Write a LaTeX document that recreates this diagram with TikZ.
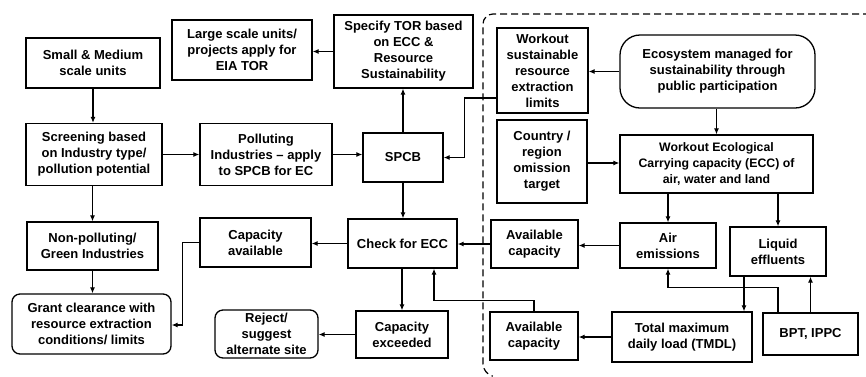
\documentclass[tikz,border=0pt]{standalone}
\usepackage{fontspec}
\setmainfont{Liberation Sans}
\usetikzlibrary{arrows.meta}
\begin{document}
\begin{tikzpicture}[x=1pt,y=-1pt,
  box/.style={draw, line width=1.3pt, align=center, inner sep=1pt,
    font=\fontsize{13}{16}\selectfont\bfseries},
  rbox/.style={box, rounded corners=8pt},
  arr/.style={line width=1.1pt, -{Latex[length=6pt,width=5pt]}},
]
\useasboundingbox (0,0) rectangle (866,376);
\fill[white] (0,0) rectangle (866,376);

% dashed region
\draw[line width=1.2pt, dash pattern=on 7pt off 4pt, rounded corners=10pt]
  (870,14) -- (483,14) -- (483,374) -- (492,376);

% left part
\node[box, minimum width=134, minimum height=50] (sm) at (93,63) {Small \& Medium\\scale units};
\node[box, minimum width=140, minimum height=60] (large) at (242,50) {Large scale units/\\projects apply for\\EIA TOR};
\node[box, minimum width=136, minimum height=62] (screen) at (94,154.5) {Screening based\\on Industry type/\\pollution potential};
\node[box, minimum width=132, minimum height=62] (poll) at (266,154.5) {Polluting\\Industries -- apply\\to SPCB for EC};
\node[box, minimum width=139, minimum height=73] (tor) at (403.5,51.5) {Specify TOR based\\on ECC \&\\Resource\\Sustainability};
\node[box, minimum width=80, minimum height=49] (spcb) at (403,157.5) {SPCB};
\node[box, minimum width=109, minimum height=49] (check) at (402.5,243.5) {Check for ECC};
\node[box, minimum width=111, minimum height=49] (capav) at (255.5,242.5) {Capacity\\available};
\node[box, minimum width=131, minimum height=48] (nonpol) at (92.5,246) {Non-polluting/\\Green Industries};
\node[rbox, minimum width=159, minimum height=60] (grant) at (91.5,324) {Grant clearance with\\resource extraction\\conditions/ limits};
\node[rbox, minimum width=103, minimum height=48] (reject) at (266.5,334) {Reject/\\suggest\\alternate site};
\node[box, minimum width=92, minimum height=47] (capex) at (402,334.5) {Capacity\\exceeded};

% right part
\node[box, minimum width=91, minimum height=85] (worksus) at (542.5,70.5) {Workout\\sustainable\\resource\\extraction\\limits};
\node[box, minimum width=90, minimum height=83] (country) at (542,161.5) {Country /\\region\\omission\\target};
\node[box, rounded corners=20pt, minimum width=195, minimum height=73] (eco) at (717.5,71.5) {Ecosystem managed for\\sustainability through\\public participation};
\node[box, font=\fontsize{12.3}{16}\selectfont\bfseries, minimum width=193, minimum height=58] (wecc) at (716.5,164) {Workout Ecological\\Carrying capacity (ECC) of\\air, water and land};
\node[box, minimum width=87, minimum height=48] (av1) at (534.5,244) {Available\\capacity};
\node[box, minimum width=96, minimum height=45] (air) at (668,245.5) {Air\\emissions};
\node[box, minimum width=96, minimum height=49] (liq) at (778,251.5) {Liquid\\effluents};
\node[box, minimum width=88, minimum height=48] (av2) at (534,336) {Available\\capacity};
\node[box, minimum width=140, minimum height=50] (tmdl) at (682,337) {Total maximum\\daily load (TMDL)};
\node[box, minimum width=95, minimum height=42] (bpt) at (810.5,334) {BPT, IPPC};

% connectors
\draw[arr] (sm.south) -- (sm.south |- screen.north);
\draw[arr] (screen.east) -- (screen.east -| poll.west);
\draw[arr] (screen.south -| nonpol.north) -- (nonpol.north);
\draw[arr] (nonpol.south) -- (nonpol.south |- grant.north);
\draw[arr] (poll.east) -- (poll.east -| spcb.west);
\draw[arr] (spcb.north) -- (spcb.north |- tor.south);
\draw[arr] (tor.west) -- (tor.west -| large.east);
\draw[arr] ([yshift=-27.5pt]worksus.west) -- ++(-32,0) |- (spcb.east);
\draw[arr] (eco.west) -- (eco.west -| worksus.east);
\draw[arr] (eco.south -| wecc.north) -- (wecc.north);
\draw[arr] ([yshift=-1.5pt]country.east) -- ([yshift=-1.5pt]country.east -| wecc.west);
\draw[arr] (spcb.south) -- (spcb.south |- check.north);
\draw[arr] (check.west) -- (check.west -| capav.east);
\draw[arr] (capav.west) -- ++(-17,0) |- ([yshift=-1pt]grant.east);
\draw[arr] (check.south -| capex.north) -- (capex.north);
\draw[arr] (capex.west) -- (capex.west -| reject.east);
\draw[arr] (av1.west) -- (av1.west -| check.east);
\draw[arr] (av2.north) -- ++(0,-11) -| ([xshift=31.5pt]check.south);
\draw[arr] (air.west) -- (air.west -| av1.east);
\draw[arr] (air.north |- wecc.south) -- (air.north);
\draw[arr] (liq.north |- wecc.south) -- (liq.north);
\draw[arr] (tmdl.west) -- (tmdl.west -| av2.east);
\draw[arr] ([xshift=-34pt]liq.south) -- ([xshift=-34pt]liq.south |- tmdl.north);
\draw[arr] (bpt.north) -- (bpt.north |- liq.south);
\draw[arr] ([xshift=-32.5pt]bpt.north) -- ++(0,-25) -| (air.south);
\end{tikzpicture}
\end{document}
